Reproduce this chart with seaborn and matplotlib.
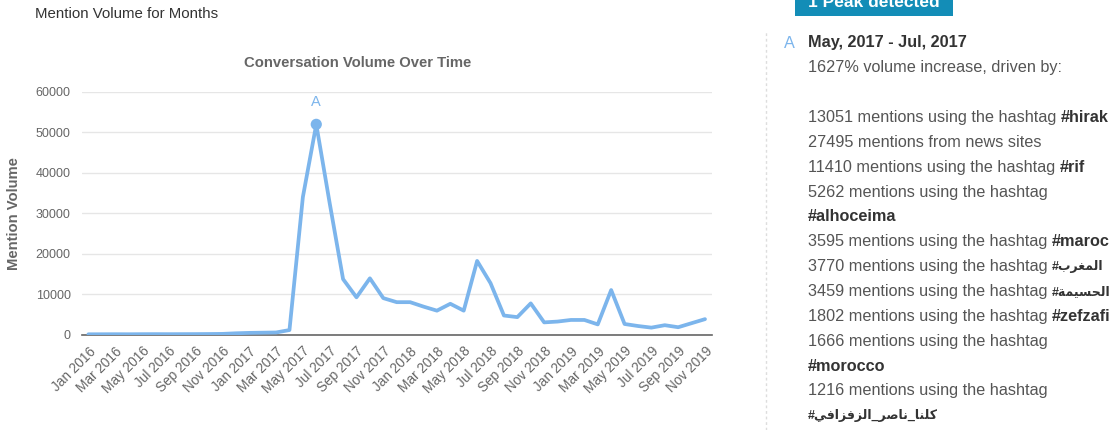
import matplotlib
matplotlib.use('Agg')
import matplotlib.pyplot as plt
import seaborn as sns
import pandas as pd
import numpy as np
from matplotlib.lines import Line2D
from matplotlib.patches import Rectangle

# monthly categories, Jan 2016 - Nov 2019
months = pd.date_range('2016-01-01', '2019-11-01', freq='MS').strftime('%b %Y').tolist()

# mention volume per month
volume = [50, 60, 70, 60, 80, 90, 80, 90, 100, 120, 150, 300,
          400, 450, 500, 1100, 34000, 52000, 32500, 13700, 9200, 13900, 9000, 8000,
          8000, 6900, 5900, 7600, 5900, 18200, 12700, 4700, 4300, 7700, 3000, 3200,
          3600, 3600, 2500, 11000, 2600, 2100, 1700, 2300, 1800, 2800, 3800]

y_ticks = [0, 10000, 20000, 30000, 40000, 50000, 60000]

peak_idx = 17
peak_letter = 'A'
peak_range = 'May, 2017 - Jul, 2017'

# arabic hashtags, written in shaped (presentation) forms, visual order
ar_maghrib = '\uFE8F\uFEAE\uFED0\uFEE4\uFEDF\uFE8D'
ar_hoceima = '\uFE94\uFEE4\uFEF4\uFEB4\uFEA4\uFEDF\uFE8D'
ar_zefzafi = ('\uFEF2\uFED3\uFE8D\uFEB0\uFED3\uFEB0\uFEDF\uFE8D' + '_' +
              '\uFEAE\uFEBB\uFE8E\uFEE7' + '_' +
              '\uFE8E\uFEE8\uFEE0\uFEDB')

# (plain text, bold hashtag) for each row of the peak panel
peak_lines = [
    ('1627% volume increase, driven by:', ''),
    ('', ''),
    ('13051 mentions using the hashtag', '#hirak'),
    ('27495 mentions from news sites', ''),
    ('11410 mentions using the hashtag', '#rif'),
    ('5262 mentions using the hashtag', ''),
    ('', '#alhoceima'),
    ('3595 mentions using the hashtag', '#maroc'),
    ('3770 mentions using the hashtag', '#' + ar_maghrib),
    ('3459 mentions using the hashtag', '#' + ar_hoceima),
    ('1802 mentions using the hashtag', '#zefzafi'),
    ('1666 mentions using the hashtag', ''),
    ('', '#morocco'),
    ('1216 mentions using the hashtag', ''),
    ('', '#' + ar_zefzafi),
]

line_color = '#7cb5ec'
grey = '#666666'

sns.set_style('white')
plt.rcParams['font.family'] = ['Liberation Sans', 'DejaVu Sans']

W, H = 1120, 430
fig = plt.figure(figsize=(W / 100, H / 100), dpi=100)
ax = fig.add_axes([81.7 / W, 1 - 334.5 / H, 630 / W, 242.5 / H])

df = pd.DataFrame({'idx': range(len(months)), 'volume': volume})
sns.lineplot(data=df, x='idx', y='volume', ax=ax, color=line_color, linewidth=2.7, zorder=3)
sns.scatterplot(x=[peak_idx], y=[volume[peak_idx]], ax=ax, color=line_color,
                s=65, edgecolor='none', zorder=4)
ax.annotate(peak_letter, xy=(peak_idx, volume[peak_idx]), xytext=(0, 11),
            textcoords='offset points', ha='center', va='bottom',
            color=line_color, fontsize=10.5)

# axes styling
ax.set_xlim(-0.5, len(months) - 0.5)
ax.set_ylim(0, 60000)
ax.set_yticks(y_ticks)
ax.set_yticklabels([str(v) for v in y_ticks])
ax.set_xticks(range(0, len(months), 2))
ax.set_xticklabels(months[::2], rotation=45, ha='right', rotation_mode='anchor')
ax.set_xticks(np.arange(-0.5, len(months), 1), minor=True)
ax.set_xlabel('')
ax.set_ylabel('')
ax.yaxis.grid(True, color='#e6e6e6', linewidth=1)
ax.xaxis.grid(False)
for side in ['top', 'left', 'right']:
    ax.spines[side].set_visible(False)
ax.spines['bottom'].set_color(grey)
ax.spines['bottom'].set_linewidth(1.2)
ax.tick_params(axis='y', length=0, pad=8, labelcolor=grey, labelsize=9)
ax.tick_params(axis='x', which='major', length=0, pad=7, labelcolor=grey, labelsize=9.8)
ax.tick_params(axis='x', which='minor', length=5, width=1, color=grey, direction='out')

# titles
fig.text(35 / W, 1 - 14 / H, 'Mention Volume for Months', fontsize=10.8, color='#333333', va='center')
fig.text(358 / W, 1 - 63 / H, 'Conversation Volume Over Time', fontsize=10.7,
         fontweight='bold', color=grey, ha='center', va='center')
fig.text(14 / W, 1 - 214 / H, 'Mention Volume', fontsize=10.6, fontweight='bold',
         color=grey, rotation=90, ha='center', va='center')

# right panel
fig.add_artist(Line2D([766 / W, 766 / W], [0, 1 - 32 / H], transform=fig.transFigure,
                      color='#dddddd', linewidth=1, linestyle=(0, (2, 2))))
fig.add_artist(Rectangle((795 / W, 1 - 16 / H), 158 / W, 20 / H, transform=fig.transFigure,
                         facecolor='#138db7', edgecolor='none'))
fig.text(874 / W, 1 - 7 / H, '1 Peak detected', fontsize=12.5, fontweight='bold',
         color='white', ha='center', va='baseline')

panel_x = 808 / W
row_h = 24.85
y0 = 43
fs = 11.7
fs_ar = 9.0  # arabic glyphs render much wider, so they get a smaller size
fig.text(784 / W, 1 - y0 / H, peak_letter, color=line_color, fontsize=fs, va='center')
fig.text(panel_x, 1 - y0 / H, peak_range, fontsize=fs, fontweight='bold', color='#333333', va='center')
for k, (plain, bold) in enumerate(peak_lines):
    y = 1 - (y0 + (k + 1) * row_h) / H
    size = fs if bold.isascii() else fs_ar
    if plain:
        t = fig.text(panel_x, y, plain, fontsize=fs, color='#555555', va='center')
        if bold:
            ax.annotate(bold, xy=(1, 0), xycoords=t, xytext=(3.2, 1 if size < fs else 0),
                        textcoords='offset points', ha='left', va='bottom',
                        fontsize=size, fontweight='bold', color='#333333')
    elif bold:
        fig.text(panel_x, y, bold, fontsize=size, fontweight='bold', color='#333333', va='center')

fig.savefig('out.png', dpi=100)
